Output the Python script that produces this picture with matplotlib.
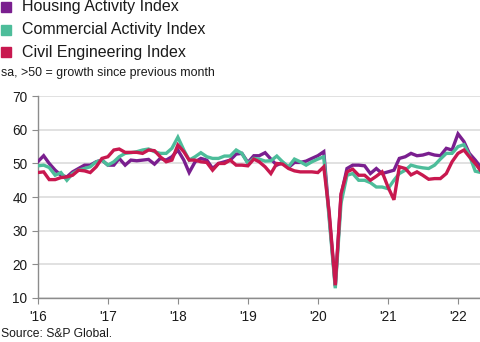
import numpy as np
import pandas as pd
import matplotlib.pyplot as plt
from matplotlib.patches import Rectangle

plt.rcParams['font.family'] = ['Liberation Sans', 'DejaVu Sans']

# monthly, Jan 2016 - May 2022
months = pd.date_range('2016-01-01', '2022-05-01', freq='MS')

housing = [
    50.5, 52.3, 50.0, 48.0, 46.5, 46.0, 47.5, 48.5, 49.5, 49.5, 50.5, 51.0,
    49.5, 49.5, 51.5, 49.5, 51.0, 50.8, 51.0, 51.2, 49.8, 51.5, 51.0, 52.0,
    54.0, 51.0, 47.3, 50.5, 51.5, 51.0, 48.5, 50.0, 50.5, 51.0, 52.8, 53.0,
    50.3, 52.3, 52.3, 53.2, 51.3, 49.5, 50.3, 48.8, 50.3, 50.3, 50.7, 51.5,
    52.3, 53.5, 34.0, 13.5, 40.5, 48.5, 49.5, 49.5, 49.3, 47.0, 48.5, 47.0,
    47.5, 48.0, 51.5, 52.0, 53.0, 52.3, 52.5, 53.0, 52.5, 52.3, 54.5, 54.0,
    58.8, 56.5, 53.0, 51.0, 48.8,
]
commercial = [
    49.3, 49.5, 48.8, 46.5, 47.3, 45.0, 47.0, 48.0, 48.5, 49.0, 50.5, 51.0,
    49.5, 50.5, 52.0, 53.0, 53.2, 53.5, 54.0, 54.3, 53.5, 53.0, 53.0, 54.5,
    57.8, 54.0, 51.0, 52.0, 53.2, 52.0, 51.5, 51.5, 52.2, 52.2, 54.0, 53.0,
    50.0, 51.5, 51.3, 50.7, 50.8, 52.2, 50.5, 49.0, 51.3, 50.5, 49.5, 50.5,
    51.3, 52.0, 33.0, 12.9, 38.2, 46.5, 47.0, 45.0, 45.0, 44.3, 43.0, 43.0,
    42.5, 45.0, 47.0, 48.0, 49.5, 49.0, 48.7, 48.5, 49.5, 51.3, 53.0, 53.0,
    55.0, 55.6, 52.5, 47.7, 47.3,
]
civil = [
    47.3, 47.5, 45.2, 45.2, 45.8, 46.0, 46.5, 48.0, 47.8, 47.3, 49.0, 51.5,
    52.0, 54.0, 54.3, 53.3, 53.3, 53.3, 53.0, 54.0, 53.8, 52.0, 50.5, 51.0,
    55.5, 53.5, 51.0, 51.0, 50.5, 50.3, 48.0, 50.0, 50.0, 51.0, 49.5, 49.5,
    49.3, 51.3, 50.5, 49.0, 47.0, 50.0, 49.8, 48.5, 47.8, 47.5, 47.5, 47.5,
    47.3, 49.0, 35.0, 13.8, 41.0, 47.5, 48.3, 46.5, 46.5, 45.0, 46.2, 47.5,
    43.0, 39.2, 49.0, 48.5, 46.6, 47.5, 46.5, 45.3, 45.5, 45.5, 47.0, 50.5,
    53.0, 54.0, 52.0, 50.0, 47.7,
]

series = [
    ('Housing Activity Index', housing, '#7a1f8f'),
    ('Commercial Activity Index', commercial, '#4dbd9a'),
    ('Civil Engineering Index', civil, '#c8184f'),
]

year_ticks = pd.date_range('2016-01-01', '2022-01-01', freq='YS')
year_labels = ["'16", "'17", "'18", "'19", "'20", "'21", "'22"]

fig = plt.figure(figsize=(4.81, 3.42), dpi=100)
ax = fig.add_axes([0.0784, 0.1287, 0.9216, 0.590])

for name, vals, col in series:
    ax.plot(months, vals, color=col, lw=2.4, solid_joinstyle='miter', zorder=3)

ax.set_ylim(10, 70)
ax.set_yticks(range(10, 71, 10))
ax.set_xlim(months[0], months[-1])
ax.set_xticks(year_ticks)
ax.set_xticklabels(year_labels)

ax.yaxis.grid(True, color='#dcdcdc', lw=1.2)
ax.set_axisbelow(True)
for s in ('top', 'right'):
    ax.spines[s].set_visible(False)
for s in ('left', 'bottom'):
    ax.spines[s].set_color('#8c8c8c')
    ax.spines[s].set_linewidth(1.0)
ax.tick_params(axis='both', colors='#8c8c8c', labelcolor='#1a1a1a',
               labelsize=9.8, length=4)
ax.tick_params(axis='x', pad=5)

# legend as coloured squares at the top
for i, (name, vals, col) in enumerate(series):
    y = 335 - 22.5 * i
    fig.add_artist(Rectangle((1 / 481, (y - 5) / 342), 10 / 481, 10 / 342,
                             transform=fig.transFigure, color=col))
    fig.text(22 / 481, y / 342, name, fontsize=11.5, va='center', color='#1a1a1a')

fig.text(1 / 481, 269 / 342, 'sa, >50 = growth since previous month',
         fontsize=8.9, va='center', color='#1a1a1a')
fig.text(1 / 481, 8 / 342, 'Source: S&P Global.', fontsize=8.7,
         va='center', color='#1a1a1a')

fig.savefig('out.png', dpi=100)
